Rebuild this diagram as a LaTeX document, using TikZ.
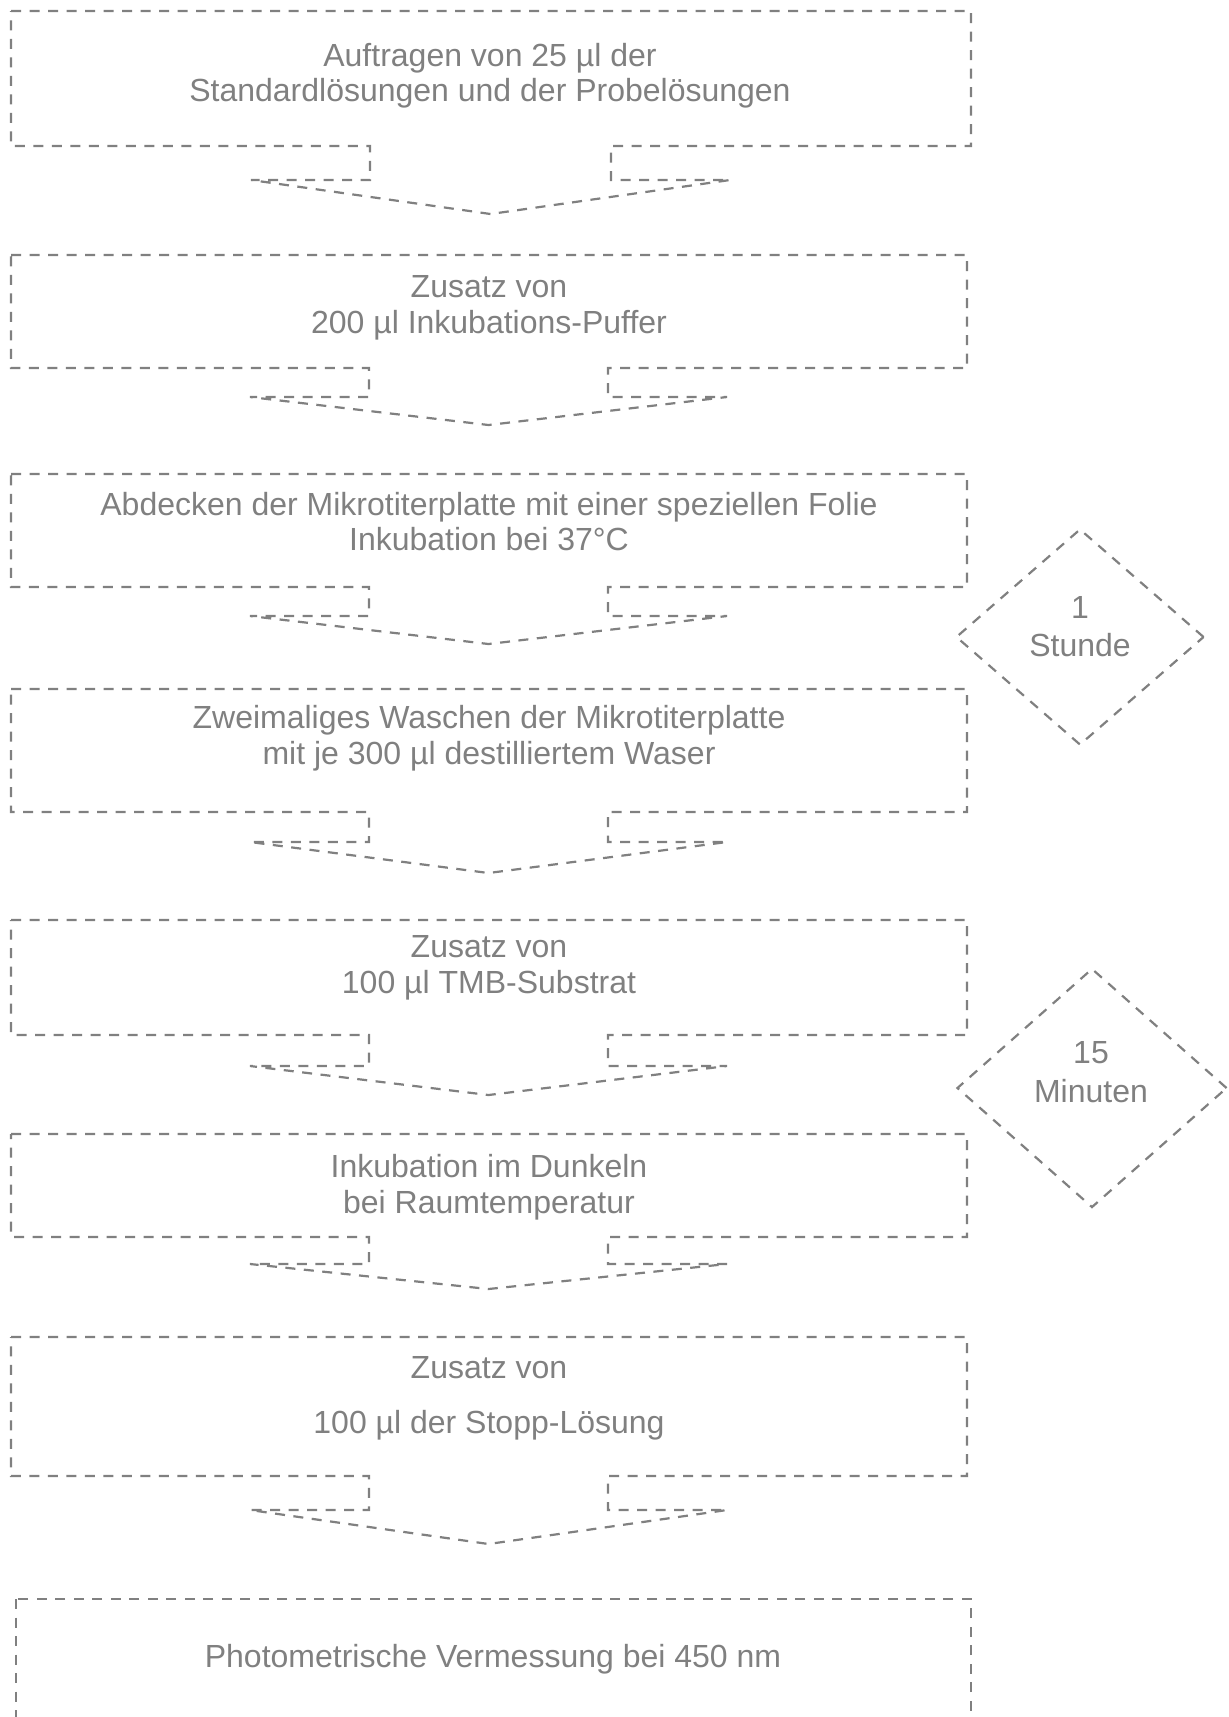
\documentclass[tikz,border=0pt]{standalone}
\usepackage{fontspec}
\setmainfont{Liberation Sans}
\usetikzlibrary{shapes.geometric}
\definecolor{ink}{RGB}{128,128,128}
\tikzset{
  outline/.style={draw=ink, line width=2.2pt, dash pattern=on 10pt off 8.5pt, line join=miter},
  txt/.style={text=ink, font=\fontsize{32}{36}\selectfont, anchor=base, inner sep=0pt},
  waitbox/.style={diamond, outline, inner sep=0pt},
}
% #1 left, #2 right, #3 top, #4 bottom, #5 notch left, #6 notch right, #7 shoulder, #8 tip y
\newcommand{\arrowbox}[8]{%
  \draw[outline] (#1,#3) -- (#2,#3) -- (#2,#4) -- (#6,#4) -- (#6,#7) -- ({#6+119},#7)
    -- ({(#5+#6)/2},#8) -- ({#5-119},#7) -- (#5,#7) -- (#5,#4) -- (#1,#4) -- cycle;}
\begin{document}
\begin{tikzpicture}[x=1pt, y=-1pt]
\clip (0,0) rectangle (1229,1717);
\fill[white] (0,0) rectangle (1229,1717);

% step boxes with their down arrows
\arrowbox{11}{971}{11}{146}{370}{611}{180}{214}
\arrowbox{11}{967}{255}{368}{369}{608}{397}{425}
\arrowbox{11}{967}{474}{587}{369}{608}{616}{644}
\arrowbox{11}{967}{689}{812}{369}{608}{842}{873}
\arrowbox{11}{967}{920}{1035}{369}{608}{1066}{1095}
\arrowbox{11}{967}{1134}{1237}{369}{608}{1264}{1289}
\arrowbox{11}{967}{1337}{1476}{369}{608}{1510}{1544}
\draw[outline] (16,1599) rectangle (971,1760);

% texts
\node[txt] (t1a) at (490,66) {Auftragen von 25 µl der};
\node[txt] (t1b) at (490,101) {Standardlösungen und der Probelösungen};
\node[txt] (t2a) at (489,297) {Zusatz von};
\node[txt] (t2b) at (489,333) {200 µl Inkubations-Puffer};
\node[txt] (t3a) at (489,515) {Abdecken der Mikrotiterplatte mit einer speziellen Folie};
\node[txt] (t3b) at (489,550) {Inkubation bei 37°C};
\node[txt] (t4a) at (489,728) {Zweimaliges Waschen der Mikrotiterplatte};
\node[txt] (t4b) at (489,764) {mit je 300 µl destilliertem Waser};
\node[txt] (t5a) at (489,957) {Zusatz von};
\node[txt] (t5b) at (489,993) {100 µl TMB-Substrat};
\node[txt] (t6a) at (489,1177) {Inkubation im Dunkeln};
\node[txt] (t6b) at (489,1213) {bei Raumtemperatur};
\node[txt] (t7a) at (489,1378) {Zusatz von};
\node[txt] (t7b) at (489,1433) {100 µl der Stopp-Lösung};
\node[txt] (t8) at (493,1667) {Photometrische Vermessung bei 450 nm};

% waiting times
\node[waitbox, minimum width=248pt, minimum height=216pt] (d1) at (1080,637) {};
\node[txt] (d1a) at (1080,618) {1};
\node[txt] (d1b) at (1080,656) {Stunde};
\node[waitbox, minimum width=270pt, minimum height=239pt] (d2) at (1092,1088) {};
\node[txt] (d2a) at (1091,1063) {15};
\node[txt] (d2b) at (1091,1102) {Minuten};
\end{tikzpicture}
\end{document}
